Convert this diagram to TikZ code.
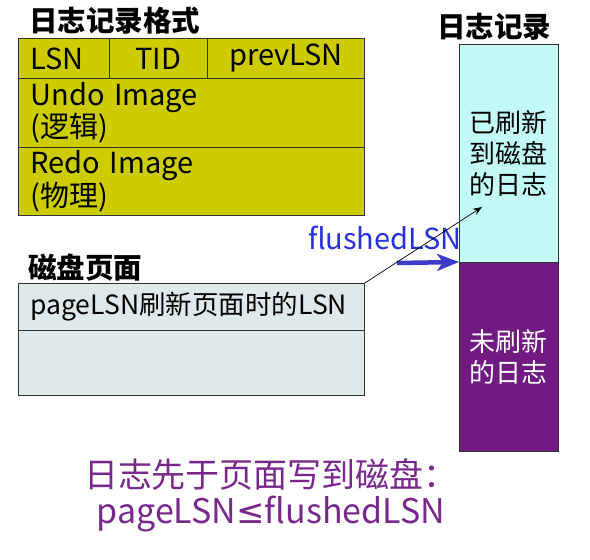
\documentclass[tikz,border=0pt]{standalone}
\usepackage{fontspec}
\setmainfont{Noto Sans CJK SC}
\newfontfamily\symfont{DejaVu Sans}
\usetikzlibrary{arrows.meta}
\definecolor{olive}{RGB}{204,204,0}
\definecolor{pagegrey}{RGB}{222,233,233}
\definecolor{flushcyan}{RGB}{194,250,246}
\definecolor{unflush}{RGB}{112,26,130}
\definecolor{lsnblue}{RGB}{40,50,220}
\definecolor{arrowblue}{RGB}{60,60,200}
\definecolor{notepurple}{RGB}{120,40,140}
\definecolor{edge}{RGB}{50,50,50}
\tikzset{
  cell/.style={draw=edge, line width=0.9pt, anchor=north west, inner sep=0pt,
    font=\fontsize{29}{31}\selectfont},
  title/.style={font=\fontsize{28.5}{31}\selectfont\bfseries, inner sep=0pt},
  stack/.style={draw=edge, line width=0.9pt, anchor=north west, inner sep=0pt,
    minimum width=99, align=center, font=\fontsize{26}{31}\selectfont}
}
\begin{document}
\begin{tikzpicture}[x=1pt,y=-1pt]
\useasboundingbox (0,0) rectangle (590,560);
% log record format
\node[title] (t1) at (115,21) {日志记录格式};
\node[cell, fill=olive, minimum width=91, minimum height=40, text width=79, align=left, inner xsep=12] (lsn) at (18,38) {LSN};
\node[cell, fill=olive, minimum width=98, minimum height=40] (tid) at (109,38) {TID};
\node[cell, fill=olive, minimum width=157, minimum height=40] (prev) at (207,38) {prevLSN};
\node[cell, fill=olive, minimum width=346, minimum height=69, text width=322, align=left, inner xsep=12] (undo) at (18,78) {Undo Image\\(逻辑)};
\node[cell, fill=olive, minimum width=346, minimum height=68, text width=322, align=left, inner xsep=12] (redo) at (18,147) {Redo Image\\(物理)};
% disk page
\node[title, anchor=west] (t2) at (28,268) {磁盘页面};
\node[cell, fill=pagegrey, minimum width=346, minimum height=47, text width=322, align=left, inner xsep=12, font=\fontsize{26.5}{31}\selectfont] (page) at (18,283) {pageLSN刷新页面时的LSN};
\node[cell, fill=pagegrey, minimum width=346, minimum height=65] (pagebody) at (18,330) {};
% log stack
\node[title] (t3) at (494,27) {日志记录};
\node[stack, fill=flushcyan, minimum height=218] (flushed) at (459,44) {已刷新\\到磁盘\\的日志};
\node[stack, fill=unflush, minimum height=189, text=white] (unfl) at (459,262) {未刷新\\的日志};
% flushedLSN
\node[font=\fontsize{29}{31}\selectfont, text=lsnblue, inner sep=0pt] (flbl) at (385,238) {flushedLSN};
\coordinate (bstart) at (397,263);
\draw[arrowblue, line width=4.5pt, -{Stealth[length=22pt,width=17pt,inset=6pt]}] (bstart) -- (unfl.north west);
\coordinate (ptip) at (482,207);
\draw[black, line width=0.7pt, -{Stealth[length=9pt,width=7pt]}] (page.north east) -- (ptip);
% note
\node[font=\fontsize{34}{36}\selectfont, text=notepurple, align=center, inner sep=0pt] (note) at (271,495) {日志先于页面写到磁盘：\\pageLSN{\symfont ≤}flushedLSN};
\end{tikzpicture}
\end{document}
